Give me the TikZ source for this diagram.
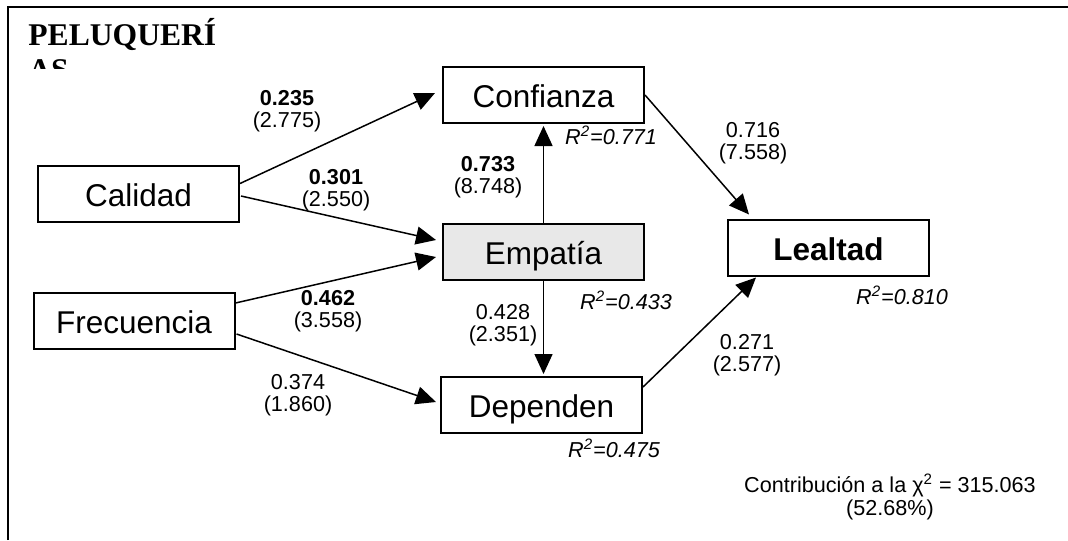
\documentclass[tikz,border=0pt]{standalone}
\usepackage{fontspec}
\setmainfont{Liberation Sans}
\newfontfamily\titlefont{Liberation Serif}
\usetikzlibrary{arrows.meta,calc}
\begin{document}
\begin{tikzpicture}[
            x=0.5pt, y=-0.5pt,
            >={Triangle[length=10pt,width=9pt]},
            ent/.style={draw, line width=1pt, rectangle, minimum width=100.5pt, minimum height=28pt,
                        inner sep=0pt, text height=12.8pt, text depth=0pt,
                        font=\fontsize{15.75}{18}\selectfont},
            lbl/.style={align=center, inner sep=0pt, font=\fontsize{10.8}{11.2}\selectfont},
            rsq/.style={inner sep=0pt, font=\fontsize{10.8}{11.2}\selectfont\itshape},
            ttl/.style={anchor=base west, inner sep=0pt, font=\titlefont\bfseries\fontsize{15.8}{18}\selectfont},
            arr/.style={->, line width=0.75pt}
        ]
           \useasboundingbox (0,0) rectangle (1068,540);
           \draw[line width=1pt] (8,540) -- (8,7) -- (1068,7);

           \node[ttl] (ttl1) at (28,46) {PELUQUERÍ};
           \begin{scope}
             \clip (20,50) rectangle (300,69);
             \node[ttl] (ttl2) at (28,81) {AS};
           \end{scope}

           \node[ent] (conf) at (543.5,95) {Confianza};
           \node[ent] (cal) at (138.5,193.5) {Calidad};
           \node[ent] (frec) at (134,321) {Frecuencia};
           \node[ent, fill=gray!18] (emp) at (543.5,251.5) {Empatía};
           \node[ent] (dep) at (541.5,405) {Dependen};
           \node[ent, font=\fontsize{15.75}{18}\selectfont\bfseries] (leal) at (828.5,247.5) {Lealtad};

           \draw[arr] ($(cal.east)+(0,-10)$) -- ($(conf.west)+(-7,-2)$);
           \draw[arr] ($(cal.east)+(1,2.5)$) -- ($(emp.west)+(-6,-11.5)$);
           \draw[arr] ($(frec.east)+(0,-18)$) -- ($(emp.west)+(-6,5.5)$);
           \draw[arr] ($(frec.east)+(1,13)$) -- ($(dep.west)+(-4,-3)$);
           \draw[arr] (emp.north) -- ($(conf.south)+(0,2)$);
           \draw[arr] (emp.south) -- ($(emp.south |- dep.north)+(0,-2)$);
           \draw[arr] (conf.east) -- ($(leal.north west)+(22,-4)$);
           \draw[arr] ($(dep.east)+(0,-18)$) -- ($(leal.south west)+(29,1)$);

           \node[lbl] (c1) at (287,111) {\textbf{0.235}\\(2.775)};
           \node[lbl] (c2) at (336,190) {\textbf{0.301}\\(2.550)};
           \node[lbl] (c3) at (328,311) {\textbf{0.462}\\(3.558)};
           \node[lbl] (c4) at (298,395) {0.374\\(1.860)};
           \node[lbl] (c5) at (488,177) {\textbf{0.733}\\(8.748)};
           \node[lbl] (c6) at (503,325) {0.428\\(2.351)};
           \node[lbl] (c7) at (753,143) {0.716\\(7.558)};
           \node[lbl] (c8) at (747,355) {0.271\\(2.577)};

           \node[rsq] (r1) at (611,135) {R\textsuperscript{2}=0.771};
           \node[rsq] (r2) at (626,300) {R\textsuperscript{2}=0.433};
           \node[rsq] (r3) at (614,448) {R\textsuperscript{2}=0.475};
           \node[rsq] (r4) at (902,295) {R\textsuperscript{2}=0.810};

           \node[lbl] (chi) at (890,497) {Contribución a la χ\textsuperscript{2} = 315.063\\(52.68\%)};
        \end{tikzpicture}
\end{document}
